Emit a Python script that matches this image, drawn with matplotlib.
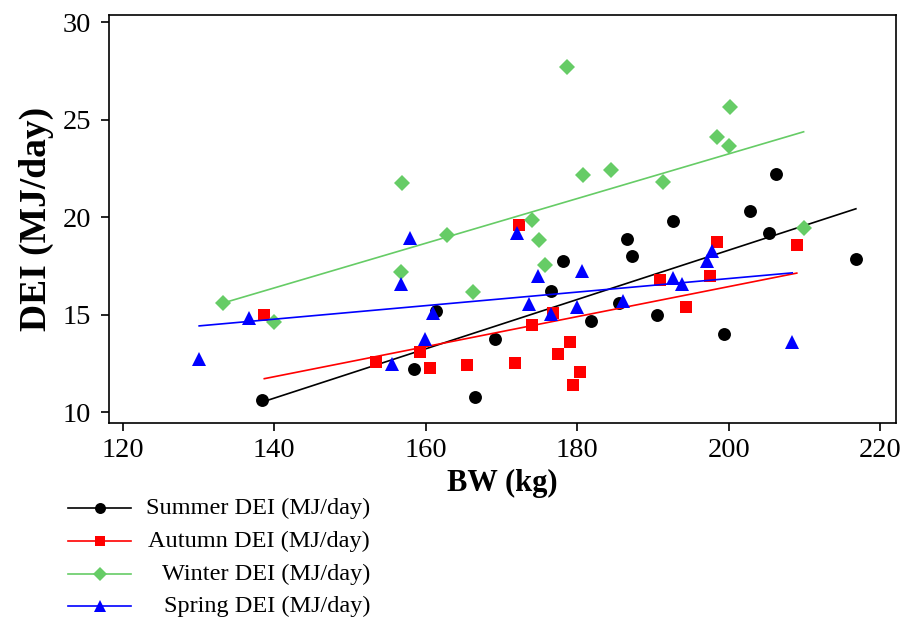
import numpy as np
import matplotlib
matplotlib.use("Agg")
import matplotlib.pyplot as plt
from matplotlib.lines import Line2D

plt.rcParams['font.family'] = ['Liberation Serif', 'DejaVu Serif']

# BW (kg) and DEI (MJ/day), one pair of arrays per season
summer_bw = [138.4, 158.4, 161.4, 166.5, 169.2, 176.6, 178.2, 181.8, 185.5,
             186.6, 187.2, 190.6, 192.7, 199.4, 202.8, 205.3, 206.2, 216.8]
summer_dei = [10.6, 12.2, 15.2, 10.75, 13.76, 16.2, 17.76, 14.68, 15.57,
              18.86, 18.0, 15.0, 19.8, 14.0, 20.3, 19.2, 22.2, 17.85]

autumn_bw = [138.7, 153.4, 159.3, 160.6, 165.5, 171.8, 172.3, 174.1, 176.8,
             177.5, 179.0, 179.5, 180.4, 191.0, 194.4, 197.5, 198.5, 209.0]
autumn_dei = [14.97, 12.56, 13.1, 12.24, 12.41, 12.5, 19.6, 14.46, 15.06,
              13.0, 13.6, 11.38, 12.07, 16.77, 15.4, 17.0, 18.73, 18.56]

winter_bw = [133.3, 140.0, 156.9, 156.7, 162.8, 166.2, 174.1, 175.0, 175.7,
             178.6, 180.8, 184.5, 191.4, 198.5, 200.0, 200.2, 209.9]
winter_dei = [15.57, 14.63, 21.73, 17.2, 19.08, 16.17, 19.85, 18.82, 17.54,
              27.68, 22.15, 22.4, 21.8, 24.12, 23.64, 25.66, 19.42]

spring_bw = [130.1, 136.7, 157.9, 156.7, 155.6, 159.9, 161.0, 172.0, 173.7,
             174.8, 176.6, 180.0, 180.6, 186.1, 192.7, 193.9, 197.1, 197.8, 208.4]
spring_dei = [12.7, 14.8, 18.94, 16.56, 12.46, 13.73, 15.1, 19.2, 15.54,
              17.0, 15.03, 15.37, 17.25, 15.7, 16.9, 16.56, 17.76, 18.27, 13.57]

labels = ['Summer DEI (MJ/day)', 'Autumn DEI (MJ/day)',
          'Winter DEI (MJ/day)', 'Spring DEI (MJ/day)']

series = [
    (summer_bw, summer_dei, 'black', 'o', 9.3),
    (autumn_bw, autumn_dei, '#ff0000', 's', 8.6),
    (winter_bw, winter_dei, '#66cc66', 'D', 8.3),
    (spring_bw, spring_dei, '#0000ff', '^', 10),
]

fig = plt.figure(figsize=(9.07, 6.22), dpi=100)
ax = fig.add_axes([0.1202, 0.3199, 0.8677, 0.656])

for bw, dei, col, mk, ms in series:
    bw = np.array(bw)
    dei = np.array(dei)
    ax.plot(bw, dei, linestyle='none', marker=mk, color=col, markersize=ms,
            markeredgewidth=0)
    # least squares trend line over the range of the data
    k, b = np.polyfit(bw, dei, 1)
    xs = np.array([bw.min(), bw.max()])
    ax.plot(xs, k * xs + b, color=col, linewidth=1.2)

ax.set_xlim(118.2, 222.1)
ax.set_ylim(9.44, 30.36)
ax.set_xticks([120, 140, 160, 180, 200, 220])
ax.set_yticks([10, 15, 20, 25, 30])
ax.tick_params(direction='out', length=6, width=1.2, labelsize=20.5)
ax.tick_params(axis='y', pad=7)
ax.tick_params(axis='x', pad=5)
for sp in ax.spines.values():
    sp.set_linewidth(1.2)

ax.set_xlabel('BW (kg)', fontsize=22, fontweight='bold', labelpad=4)
ax.set_ylabel('DEI (MJ/day)', fontsize=27, fontweight='bold', labelpad=6)

# legend drawn below the plot with right-aligned text
leg_y = [508, 541, 574, 606]
for (bw, dei, col, mk, ms), lab, yp in zip(series, labels, leg_y):
    yf = 1 - yp / 622
    fig.add_artist(Line2D([68 / 907, 131 / 907], [yf, yf], color=col,
                          linewidth=1.2, transform=fig.transFigure))
    fig.add_artist(Line2D([100 / 907], [yf], color=col, marker=mk,
                          markersize=ms * 0.85, markeredgewidth=0,
                          transform=fig.transFigure))
    fig.text(370 / 907, yf, lab, ha='right', va='center', fontsize=17.5)

fig.savefig('out.png', dpi=100)
